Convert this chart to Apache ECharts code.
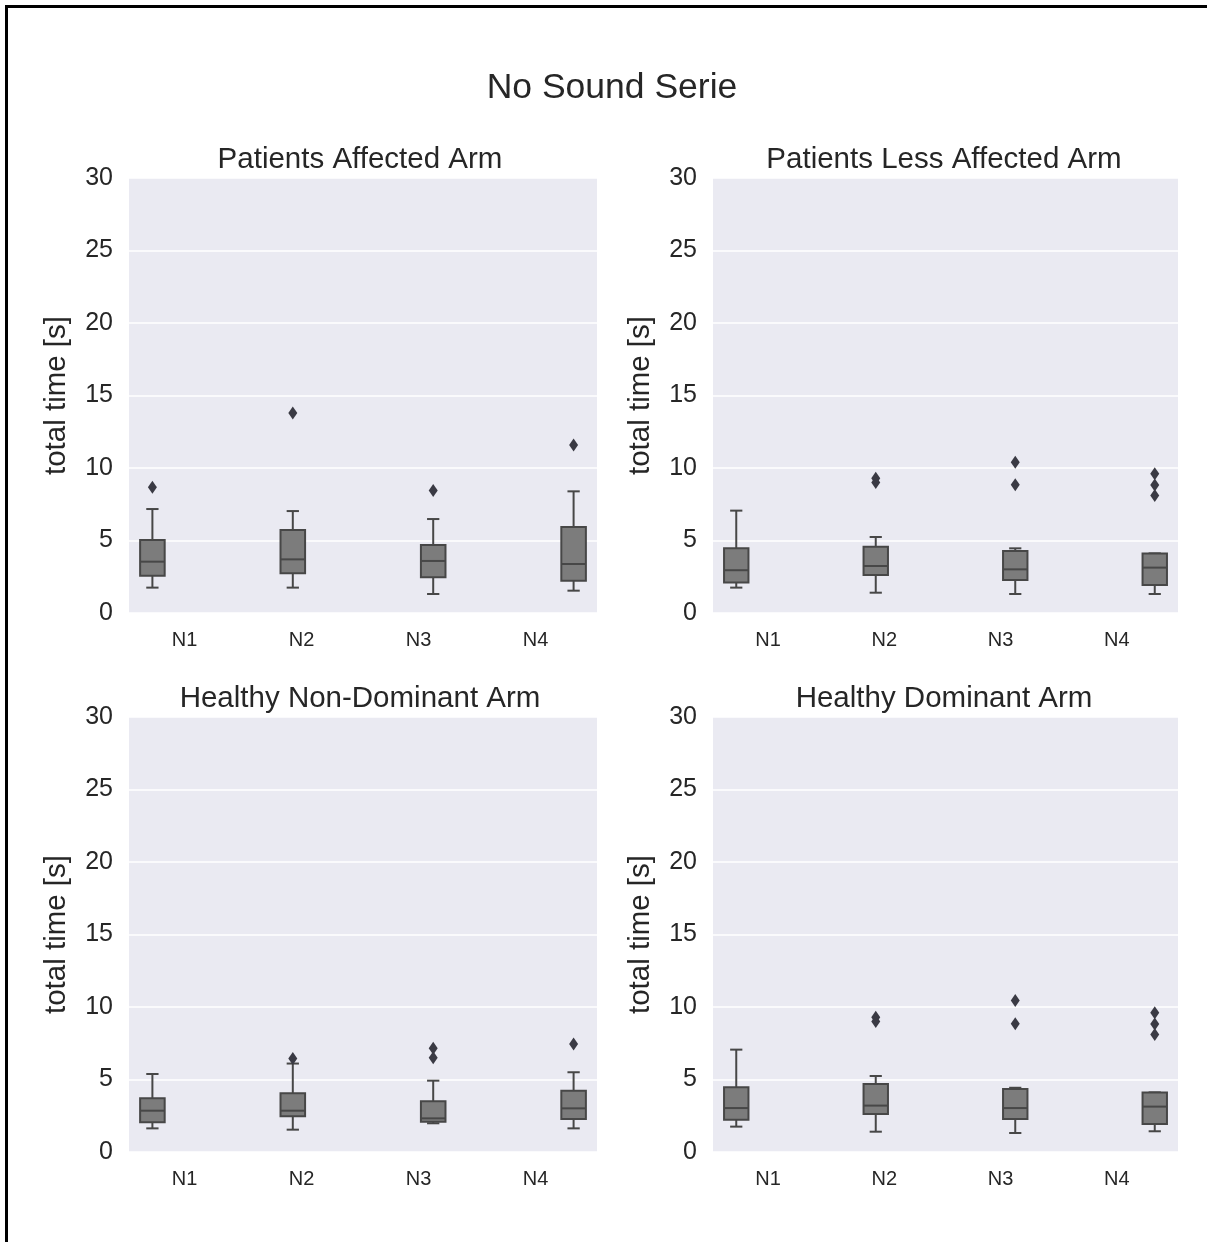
<!DOCTYPE html>
<html>
<head>
<meta charset="utf-8">
<script src="https://cdn.jsdelivr.net/npm/echarts@6/dist/echarts.min.js"></script>
<style>
  html, body { margin: 0; padding: 0; background: #fff; }
  #main { width: 1207px; height: 1242px; }
</style>
</head>
<body>
<div id="main"></div>
<script>
// categories and tick labels
const categories = ['N1', 'N2', 'N3', 'N4'];
const yTicks = [0, 5, 10, 15, 20, 25, 30];
const panelTitles = ['Patients Affected Arm', 'Patients Less Affected Arm', 'Healthy Non-Dominant Arm', 'Healthy Dominant Arm'];

// box stats per category: [min, Q1, median, Q3, max]
const affectedBox = [[1.75, 2.57, 3.54, 5.03, 7.17], [1.75, 2.74, 3.7, 5.72, 7.03], [1.31, 2.46, 3.59, 4.69, 6.48], [1.54, 2.23, 3.38, 5.93, 8.39]];
const lessAffectedBox = [[1.75, 2.11, 2.95, 4.46, 7.06], [1.4, 2.62, 3.24, 4.57, 5.24], [1.31, 2.28, 3.01, 4.28, 4.46], [1.31, 1.93, 3.13, 4.11, 4.11]];
const nonDominantBox = [[1.63, 2.05, 2.85, 3.7, 5.38], [1.54, 2.46, 2.85, 4.05, 6.1], [1.98, 2.09, 2.32, 3.5, 4.92], [1.63, 2.28, 3.01, 4.23, 5.5]];
const dominantBox = [[1.75, 2.23, 3.03, 4.46, 7.06], [1.4, 2.62, 3.2, 4.69, 5.24], [1.31, 2.28, 3.03, 4.34, 4.43], [1.43, 1.93, 3.13, 4.11, 4.11]];

// outliers per category
const affectedOut = [[8.67], [13.8], [8.44], [11.59]];
const lessAffectedOut = [[], [9.3, 9.0], [10.4, 8.85], [9.6, 8.83, 8.1]];
const nonDominantOut = [[], [6.45], [7.15, 6.5], [7.45]];
const dominantOut = [[], [9.3, 9.0], [10.45, 8.85], [9.6, 8.83, 8.1]];

const boxSets = [affectedBox, lessAffectedBox, nonDominantBox, dominantBox];
const outSets = [affectedOut, lessAffectedOut, nonDominantOut, dominantOut];

// hue dodge like seaborn (4 levels, one per category)
const hueOffsets = [-0.3, -0.1, 0.1, 0.3];

const grids = [
    { left: 129, top: 178, width: 468, height: 435 },
    { left: 713, top: 178, width: 465, height: 435 },
    { left: 129, top: 717, width: 468, height: 435 },
    { left: 713, top: 717, width: 465, height: 435 }
];
const titleCenters = [355, 939, 355, 939];

const lineColor = '#474747';
const boxFill = '#7c7c7c';
const textColor = '#262626';
const font = 'Liberation Sans, Arial, sans-serif';

function renderBox(params, api) {
    const cat = api.value(0);
    const bw = api.size([1, 0])[0];
    const x = api.coord([cat, 0])[0] + hueOffsets[cat] * bw;
    const w = bw * 0.21;
    const y = v => api.coord([cat, v])[1];
    const yMin = y(api.value(1)), yQ1 = y(api.value(2)), yMed = y(api.value(3)),
        yQ3 = y(api.value(4)), yMax = y(api.value(5));
    const st = { stroke: lineColor, lineWidth: 2 };
    return {
        type: 'group',
        children: [
            { type: 'line', shape: { x1: x, y1: yQ3, x2: x, y2: yMax }, style: st },
            { type: 'line', shape: { x1: x, y1: yQ1, x2: x, y2: yMin }, style: st },
            { type: 'line', shape: { x1: x - w / 4, y1: yMax, x2: x + w / 4, y2: yMax }, style: st },
            { type: 'line', shape: { x1: x - w / 4, y1: yMin, x2: x + w / 4, y2: yMin }, style: st },
            { type: 'rect', shape: { x: x - w / 2, y: yQ3, width: w, height: yQ1 - yQ3 }, style: { fill: boxFill, stroke: lineColor, lineWidth: 2 } },
            { type: 'line', shape: { x1: x - w / 2, y1: yMed, x2: x + w / 2, y2: yMed }, style: st }
        ]
    };
}

function renderFlier(params, api) {
    const cat = api.value(0);
    const bw = api.size([1, 0])[0];
    const pt = api.coord([cat, api.value(1)]);
    const x = pt[0] + hueOffsets[cat] * bw;
    const y = pt[1];
    return {
        type: 'polygon',
        shape: { points: [[x, y - 6.5], [x + 4.5, y], [x, y + 6.5], [x - 4.5, y]] },
        style: { fill: '#3a3a44' }
    };
}

const option = {
    backgroundColor: '#fff',
    animation: false,
    title: [{
        text: 'No Sound Serie',
        left: 607,
        textAlign: 'center',
        top: 65,
        textStyle: { fontSize: 35.5, fontWeight: 'normal', color: textColor, fontFamily: font }
    }].concat(panelTitles.map((t, i) => ({
        text: t,
        left: titleCenters[i],
        textAlign: 'center',
        top: grids[i].top - 38,
        textStyle: { fontSize: 29.5, fontWeight: 'normal', color: textColor, fontFamily: font }
    }))),
    graphic: [
        { type: 'line', shape: { x1: 5, y1: 6.5, x2: 1207, y2: 6.5 }, style: { stroke: '#000', lineWidth: 3 } },
        { type: 'line', shape: { x1: 6.5, y1: 5, x2: 6.5, y2: 1242 }, style: { stroke: '#000', lineWidth: 3 } }
    ],
    grid: grids.map(g => Object.assign({ show: true, backgroundColor: '#eaeaf2', borderWidth: 0 }, g)),
    xAxis: grids.map((g, i) => ({
        type: 'category',
        gridIndex: i,
        data: categories,
        axisLine: { show: false },
        axisTick: { show: false },
        axisLabel: { fontSize: 20, color: textColor, margin: 17, fontFamily: font, padding: [0, 6, 0, 0] }
    })),
    yAxis: grids.map((g, i) => ({
        type: 'value',
        gridIndex: i,
        min: yTicks[0],
        max: yTicks[yTicks.length - 1],
        interval: 5,
        name: 'total time [s]',
        nameLocation: 'middle',
        nameGap: 57,
        nameTextStyle: { fontSize: 29.5, color: textColor, fontFamily: font },
        axisLine: { show: false },
        axisTick: { show: false },
        axisLabel: { fontSize: 25, color: textColor, margin: 16, fontFamily: font, padding: [4, 0, 0, 0] },
        splitLine: { show: true, lineStyle: { color: '#ffffff', width: 1.5 } }
    })),
    series: []
};

boxSets.forEach((set, i) => {
    option.series.push({
        type: 'custom',
        xAxisIndex: i,
        yAxisIndex: i,
        renderItem: renderBox,
        encode: { x: 0, y: [1, 2, 3, 4, 5] },
        data: set.map((b, c) => [c].concat(b))
    });
    const fl = [];
    outSets[i].forEach((vals, c) => vals.forEach(v => fl.push([c, v])));
    option.series.push({
        type: 'custom',
        xAxisIndex: i,
        yAxisIndex: i,
        renderItem: renderFlier,
        encode: { x: 0, y: 1 },
        data: fl
    });
});

const chart = echarts.init(document.getElementById('main'));
chart.setOption(option);
window.addEventListener('resize', function () {
    chart.resize();
});
</script>
</body>
</html>
